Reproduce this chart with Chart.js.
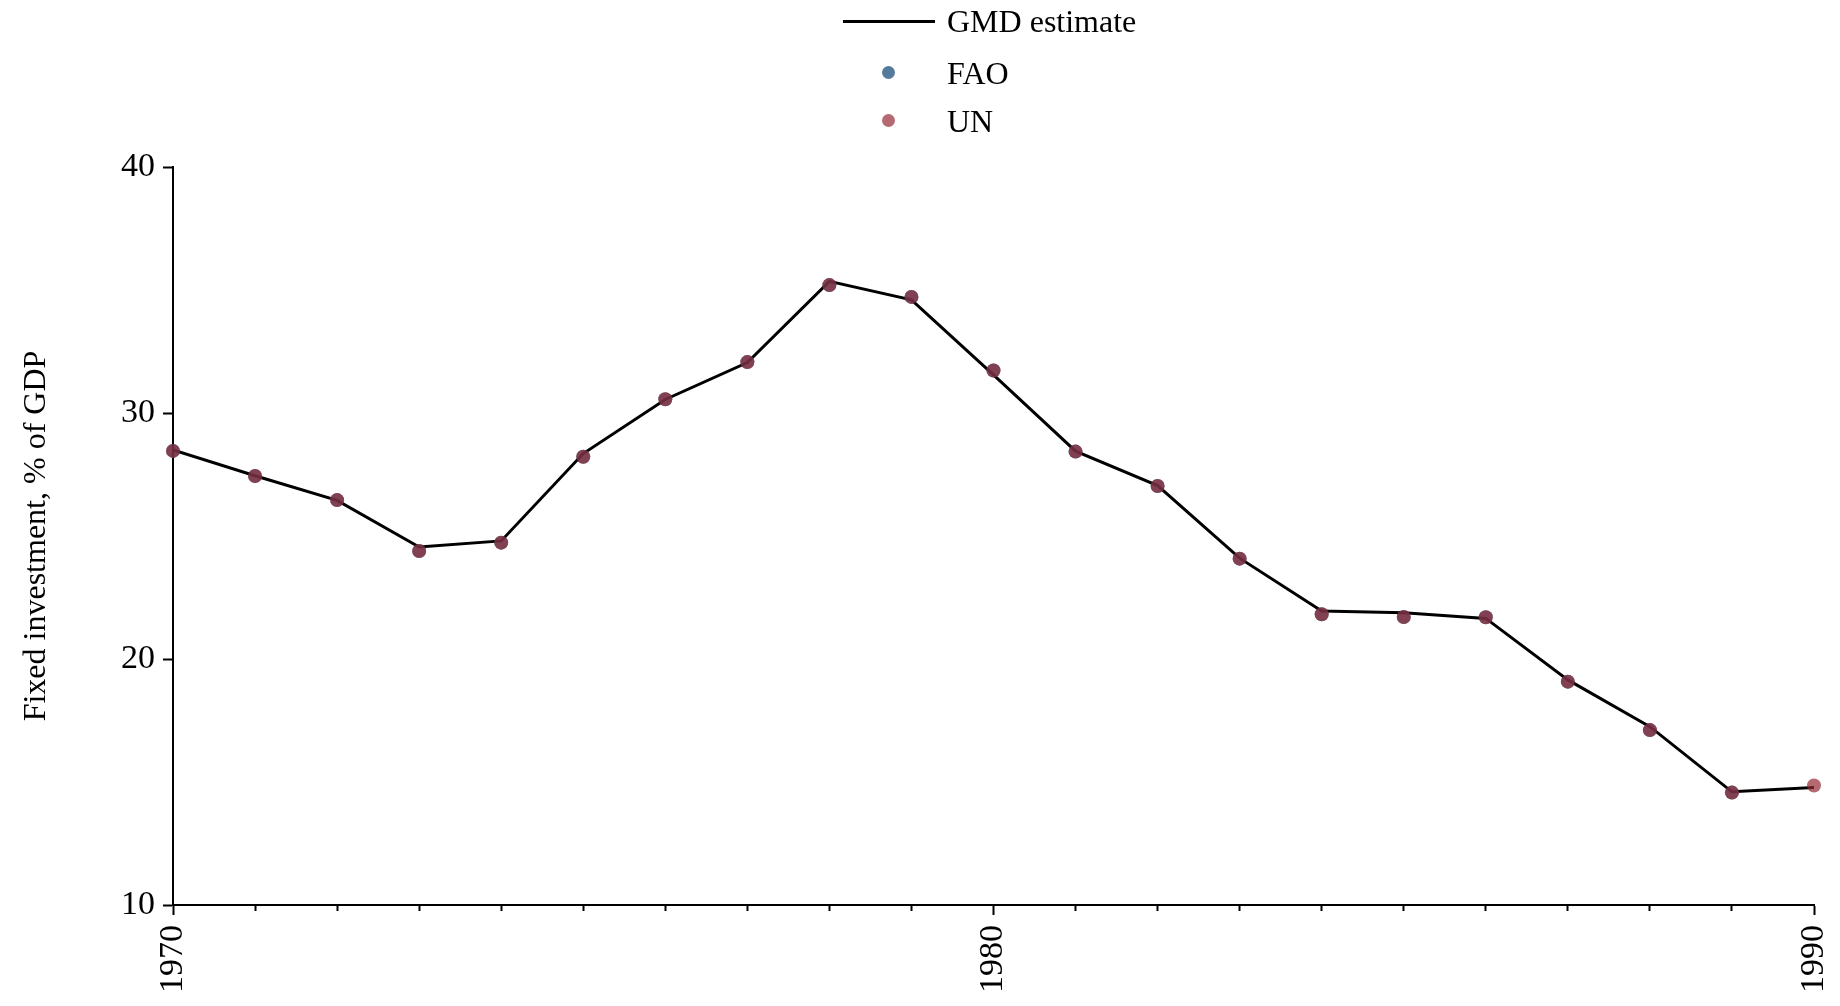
<!DOCTYPE html>
<html>
<head>
<meta charset="utf-8">
<script src="https://cdn.jsdelivr.net/npm/chart.js@4/dist/chart.umd.min.js"></script>
<style>
  body { margin: 0; background: #fff; }
  #wrap { position: relative; width: 1840px; height: 1006px; }
  .lg { position: absolute; font-family: "Liberation Serif", serif; font-size: 32px; line-height: 32px; color: #000; }
  .dot { position: absolute; width: 13px; height: 13px; border-radius: 50%; }
</style>
</head>
<body>
<div id="wrap">
  <canvas id="chart"></canvas>
  <div id="legend"></div>
</div>
<script>
// years on the x axis
const years = [1970, 1971, 1972, 1973, 1974, 1975, 1976, 1977, 1978, 1979, 1980,
               1981, 1982, 1983, 1984, 1985, 1986, 1987, 1988, 1989, 1990];

// GMD estimate (line)
const gmdValues = [28.5, 27.45, 26.45, 24.55, 24.8, 28.35, 30.55, 32.05, 35.35, 34.6, 31.55,
                   28.45, 27.05, 24.1, 21.95, 21.88, 21.65, 19.15, 17.25, 14.6, 14.78];

// source series (points)
const faoValues = [28.46, 27.44, 26.46, 24.39, 24.73, 28.22, 30.56, 32.07, 35.2, 34.72, 31.73,
                   28.43, 27.03, 24.08, 21.82, 21.71, 21.7, 19.08, 17.11, 14.57, null];
const unValues = [28.46, 27.44, 26.46, 24.39, 24.73, 28.22, 30.56, 32.07, 35.2, 34.72, 31.73,
                  28.43, 27.03, 24.08, 21.82, 21.71, 21.7, 19.08, 17.11, 14.57, 14.86];

const yTicks = [10, 20, 30, 40];
const xLabels = [1970, 1980, 1990];

const faoColor = 'rgba(12, 65, 114, 0.7)';
const unColor = 'rgba(149, 42, 51, 0.7)';
const font = { family: '"Liberation Serif", serif', size: 34 };

function toPoints(vals) {
    return years.map((y, i) => ({ x: y, y: vals[i] }));
}

// legend, stacked and left aligned like the original
const legend = document.getElementById('legend');
legend.innerHTML =
    '<div style="position:absolute;left:843px;top:20px;width:92px;height:3px;background:#000"></div>' +
    '<div class="lg" style="left:947px;top:5px">GMD estimate</div>' +
    '<div class="dot" style="left:882px;top:66px;background:' + faoColor + '"></div>' +
    '<div class="lg" style="left:947px;top:57px">FAO</div>' +
    '<div class="dot" style="left:882px;top:114px;background:' + unColor + '"></div>' +
    '<div class="lg" style="left:947px;top:105px">UN</div>';

const ctx = document.getElementById('chart').getContext('2d');
new Chart(ctx, {
    type: 'line',
    data: {
        datasets: [
            {
                label: 'GMD estimate',
                data: toPoints(gmdValues),
                borderColor: '#000',
                borderWidth: 3,
                pointRadius: 0,
                fill: false,
                order: 3
            },
            {
                label: 'FAO',
                data: toPoints(faoValues),
                showLine: false,
                pointRadius: 7,
                pointBorderWidth: 0,
                pointBackgroundColor: faoColor,
                clip: false,
                order: 2
            },
            {
                label: 'UN',
                data: toPoints(unValues),
                showLine: false,
                pointRadius: 7,
                pointBorderWidth: 0,
                pointBackgroundColor: unColor,
                clip: false,
                order: 1
            }
        ]
    },
    options: {
        responsive: true,
        maintainAspectRatio: false,
        animation: false,
        layout: { padding: { top: 167, right: 26, bottom: 0, left: 0 } },
        plugins: {
            legend: { display: false },
            tooltip: { enabled: false }
        },
        scales: {
            x: {
                type: 'linear',
                min: 1970,
                max: 1990,
                afterFit: s => { s.height = 101; s.paddingLeft = 0; s.paddingRight = 0; },
                border: { color: '#000', width: 2 },
                grid: {
                    drawOnChartArea: false,
                    color: '#000',
                    tickColor: '#000',
                    tickWidth: 2,
                    tickLength: 10,
                    tickBorderDash: c => (c.tick && xLabels.includes(c.tick.value)) ? [] : [5, 50]
                },
                ticks: {
                    stepSize: 1,
                    autoSkip: false,
                    maxRotation: 90,
                    minRotation: 90,
                    padding: 10,
                    color: '#000',
                    font: font,
                    callback: v => xLabels.includes(v) ? String(v) : ''
                }
            },
            y: {
                min: 10,
                max: 40,
                afterFit: s => { s.width = 173; s.paddingTop = 0; s.paddingBottom = 0; },
                afterBuildTicks: s => { s.ticks = yTicks.map(v => ({ value: v })); },
                border: { color: '#000', width: 2 },
                grid: {
                    drawOnChartArea: false,
                    color: '#000',
                    tickColor: '#000',
                    tickWidth: 2,
                    tickLength: 10
                },
                ticks: {
                    padding: 8,
                    color: '#000',
                    font: font
                },
                title: {
                    display: true,
                    text: 'Fixed investment, % of GDP',
                    color: '#000',
                    font: { family: '"Liberation Serif", serif', size: 32 },
                    padding: { top: 17, bottom: 0 }
                }
            }
        }
    }
});
</script>
</body>
</html>
